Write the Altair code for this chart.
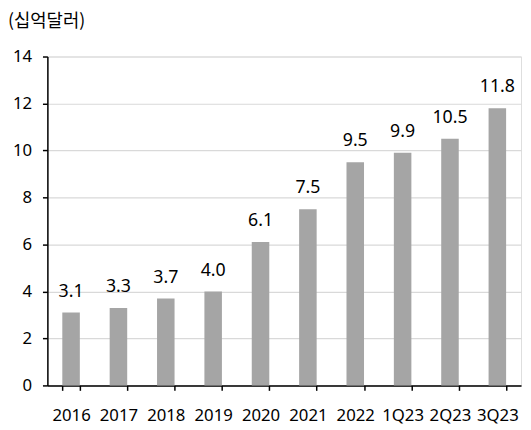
import altair as alt
import pandas as pd

categories = ["2016", "2017", "2018", "2019", "2020", "2021", "2022", "1Q23", "2Q23", "3Q23"]
values = [3.1, 3.3, 3.7, 4.0, 6.1, 7.5, 9.5, 9.9, 10.5, 11.8]
labels = ["3.1", "3.3", "3.7", "4.0", "6.1", "7.5", "9.5", "9.9", "10.5", "11.8"]
y_ticks = [0, 2, 4, 6, 8, 10, 12, 14]
unit_title = "(십억달러)"

df = pd.DataFrame({"cat": categories, "value": values, "label": labels})

FONT = "Noto Sans"

x = alt.X("cat:N", sort=categories, title=None,
          scale=alt.Scale(paddingInner=0.63, paddingOuter=0.315),
          axis=alt.Axis(labelAngle=0, tickBand="extent", labelPadding=18, grid=False))
y = alt.Y("value:Q", title=None,
          scale=alt.Scale(domain=[0, 14], nice=False),
          axis=alt.Axis(values=y_ticks, labelPadding=11, grid=True))

base = alt.Chart(df)
bars = base.mark_bar(color="#a5a5a5").encode(x=x, y=y)
text = base.mark_text(fontSize=18, font=FONT, color="#000000", baseline="alphabetic", dy=-16).encode(
    x=alt.X("cat:N", sort=categories), y="value:Q", text="label:N")

chart = alt.layer(bars, text).properties(
    width=481, height=334,
    autosize=alt.AutoSizeParams(type="none"),
    padding={"left": 40, "top": 46, "right": 2, "bottom": 42},
    title=alt.TitleParams(unit_title, anchor="start", frame="group", dx=-40, offset=8,
                          baseline="middle", fontSize=18, fontWeight="normal",
                          font="Noto Sans CJK KR", color="#000000"),
).configure_view(stroke=None).configure(background="#ffffff").configure_axis(
    labelFontSize=17, labelFont=FONT, labelColor="#000000",
    domainColor="#000000", domainWidth=1.5, tickColor="#000000", tickWidth=1.5,
    tickSize=5, gridColor="#d9d9d9", gridWidth=1.2, domainOpacity=1, tickOpacity=1)

chart.save("out.html", embed_options={"renderer": "svg", "actions": False})
